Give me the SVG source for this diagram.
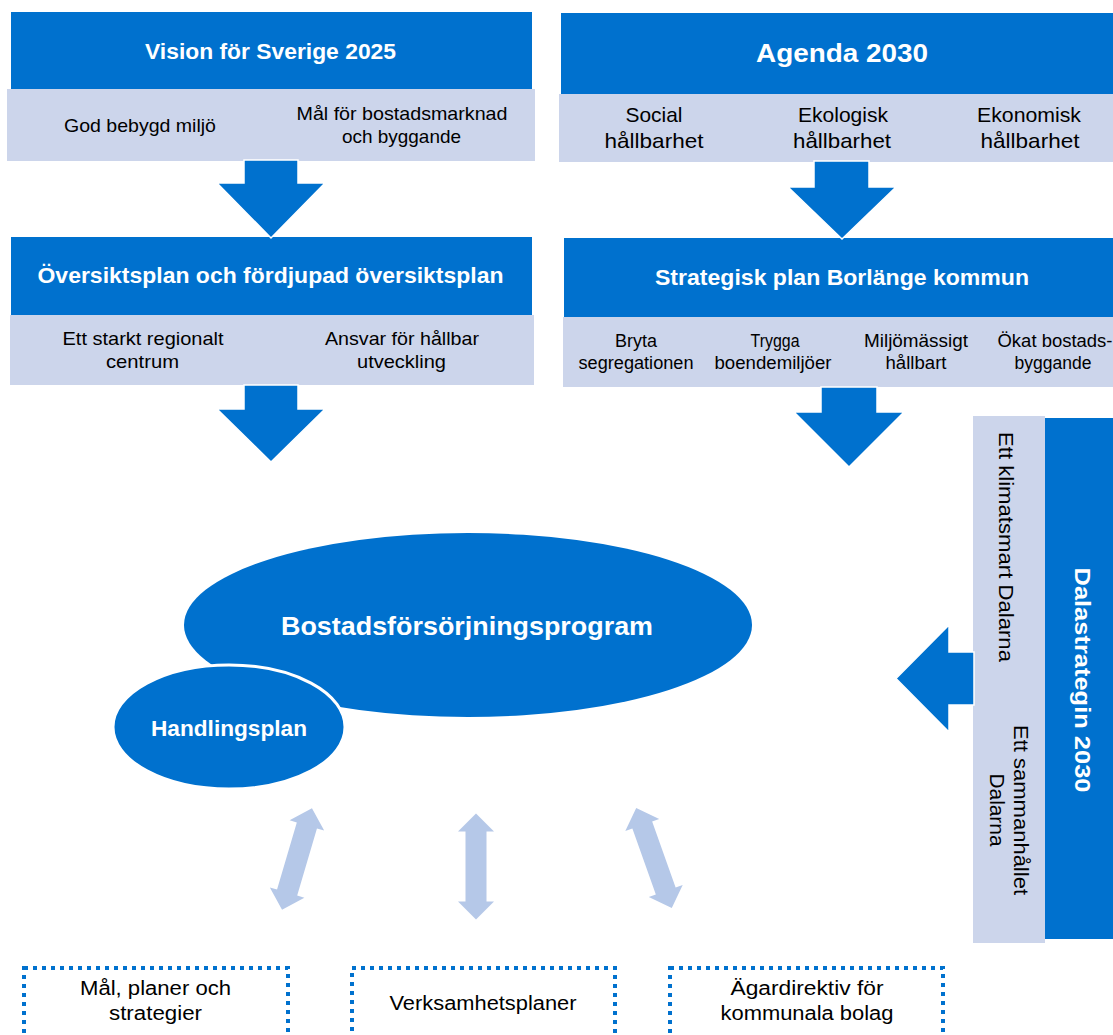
<svg xmlns="http://www.w3.org/2000/svg" width="1113" height="1035" viewBox="0 0 1113 1035">
<style>
.dk{fill:#0071CE}
.lt{fill:#CCD5EB}
.arr{fill:#0071CE;stroke:#fff;stroke-width:1.5}
.darr{fill:#B5C8E8}
.dash{fill:#fff;stroke:#0071CE;stroke-width:4;stroke-dasharray:4 5}
text{font-family:"Liberation Sans",Arial,sans-serif;text-anchor:middle}
.t{fill:#fff;font-weight:bold;font-size:22px}
.b{fill:#000;font-size:18.5px}
</style>
<rect width="1113" height="1035" fill="#fff"/>

<g id="vision">
<rect class="dk" x="11" y="12" width="521" height="78"/>
<rect class="lt" x="7" y="89" width="528" height="72"/>
<text class="t" x="270.5" y="59" textLength="251" lengthAdjust="spacingAndGlyphs">Vision för Sverige 2025</text>
<text class="b" x="140" y="132" textLength="152" lengthAdjust="spacingAndGlyphs">God bebygd miljö</text>
<text class="b" x="402" y="120" textLength="211" lengthAdjust="spacingAndGlyphs">Mål för bostadsmarknad</text>
<text class="b" x="401.5" y="143" textLength="119" lengthAdjust="spacingAndGlyphs">och byggande</text>
</g>

<g id="agenda">
<rect class="dk" x="561" y="13" width="552" height="81"/>
<rect class="lt" x="559" y="94" width="554" height="68"/>
<text class="t" x="842" y="62" style="font-size:26px" textLength="172" lengthAdjust="spacingAndGlyphs">Agenda 2030</text>
<g class="b" style="font-size:21px">
<text x="654" y="122" textLength="57" lengthAdjust="spacingAndGlyphs">Social</text>
<text x="654" y="148" textLength="99" lengthAdjust="spacingAndGlyphs">hållbarhet</text>
<text x="843" y="122" textLength="90" lengthAdjust="spacingAndGlyphs">Ekologisk</text>
<text x="842" y="148" textLength="98" lengthAdjust="spacingAndGlyphs">hållbarhet</text>
<text x="1029" y="122" textLength="104" lengthAdjust="spacingAndGlyphs">Ekonomisk</text>
<text x="1030" y="148" textLength="99" lengthAdjust="spacingAndGlyphs">hållbarhet</text>
</g>
</g>

<g id="oversiktsplan">
<rect class="dk" x="11" y="237" width="521" height="78"/>
<rect class="lt" x="10" y="315" width="524" height="70"/>
<text class="t" x="270.5" y="283" textLength="466" lengthAdjust="spacingAndGlyphs">Översiktsplan och fördjupad översiktsplan</text>
<text class="b" x="143" y="345" textLength="161" lengthAdjust="spacingAndGlyphs">Ett starkt regionalt</text>
<text class="b" x="142.5" y="368" textLength="73" lengthAdjust="spacingAndGlyphs">centrum</text>
<text class="b" x="402" y="345" textLength="154" lengthAdjust="spacingAndGlyphs">Ansvar för hållbar</text>
<text class="b" x="401.5" y="368" textLength="89" lengthAdjust="spacingAndGlyphs">utveckling</text>
</g>

<g id="strategisk-plan">
<rect class="dk" x="564" y="238" width="549" height="79"/>
<rect class="lt" x="563" y="317" width="550" height="70"/>
<text class="t" x="842" y="285" textLength="374" lengthAdjust="spacingAndGlyphs">Strategisk plan Borlänge kommun</text>
<g class="b" style="font-size:17.5px">
<text x="636" y="347" textLength="42" lengthAdjust="spacingAndGlyphs">Bryta</text>
<text x="636" y="369" textLength="115" lengthAdjust="spacingAndGlyphs">segregationen</text>
<text x="775" y="347" textLength="49" lengthAdjust="spacingAndGlyphs">Trygga</text>
<text x="773" y="369" textLength="117" lengthAdjust="spacingAndGlyphs">boendemiljöer</text>
<text x="916" y="347" textLength="104" lengthAdjust="spacingAndGlyphs">Miljömässigt</text>
<text x="916" y="369" textLength="61" lengthAdjust="spacingAndGlyphs">hållbart</text>
<text x="1055" y="347" textLength="115" lengthAdjust="spacingAndGlyphs">Ökat bostads-</text>
<text x="1053" y="369" textLength="77" lengthAdjust="spacingAndGlyphs">byggande</text>
</g>
</g>

<g id="dalastrategin">
<rect class="lt" x="973" y="416" width="72" height="527"/>
<rect class="dk" x="1045" y="418" width="68" height="521"/>
<text class="t" transform="translate(1075,680) rotate(90)" textLength="225" lengthAdjust="spacingAndGlyphs">Dalastrategin 2030</text>
<text class="b" style="font-size:20px" transform="translate(999,547) rotate(90)" textLength="230" lengthAdjust="spacingAndGlyphs">Ett klimatsmart Dalarna</text>
<text class="b" style="font-size:20px" transform="translate(1014,810) rotate(90)" textLength="170" lengthAdjust="spacingAndGlyphs">Ett sammanhållet</text>
<text class="b" style="font-size:20px" transform="translate(990,810) rotate(90)" textLength="73" lengthAdjust="spacingAndGlyphs">Dalarna</text>
</g>

<g id="bostadsforsorjningsprogram">
<ellipse class="dk" cx="468" cy="625" rx="284" ry="92"/>
<text class="t" x="467" y="635" style="font-size:26px" textLength="372" lengthAdjust="spacingAndGlyphs">Bostadsförsörjningsprogram</text>
</g>

<g id="handlingsplan">
<ellipse class="dk" cx="229" cy="727" rx="116" ry="62" stroke="#fff" stroke-width="3"/>
<text class="t" x="229" y="736" textLength="156" lengthAdjust="spacingAndGlyphs">Handlingsplan</text>
</g>

<g id="mal-planer">
<rect class="dash" x="24" y="968" width="264" height="70"/>
<text class="b" style="font-size:19.5px" x="155.5" y="995" textLength="151" lengthAdjust="spacingAndGlyphs">Mål, planer och</text>
<text class="b" style="font-size:19.5px" x="155.5" y="1020" textLength="93" lengthAdjust="spacingAndGlyphs">strategier</text>
</g>

<g id="verksamhetsplaner">
<rect class="dash" x="352" y="968" width="263" height="70"/>
<text class="b" style="font-size:19.5px" x="483" y="1010" textLength="187" lengthAdjust="spacingAndGlyphs">Verksamhetsplaner</text>
</g>

<g id="agardirektiv">
<rect class="dash" x="670" y="968" width="273" height="70"/>
<text class="b" style="font-size:19.5px" x="807" y="995" textLength="153" lengthAdjust="spacingAndGlyphs">Ägardirektiv för</text>
<text class="b" style="font-size:19.5px" x="807" y="1020" textLength="173" lengthAdjust="spacingAndGlyphs">kommunala bolag</text>
</g>

<g id="connectors">
<polygon class="arr" points="244,160 298,160 298,183 325,183 271,238 217,183 244,183"/>
<polygon class="arr" points="814,161 869,161 869,187 896,187 842,239 788,187 814,187"/>
<polygon class="arr" points="244,385 298,385 298,409 325,409 271,462 217,409 244,409"/>
<polygon class="arr" points="821,387 877,387 877,412 904,412 849,467 794,412 821,412"/>
<polygon class="arr" points="974,652 949,652 949,625 896,678.5 949,732 949,705 974,705"/>
<defs>
<polygon id="dbl" points="0,-53 18,-35 10.5,-35 10.5,35 18,35 0,53 -18,35 -10.5,35 -10.5,-35 -18,-35"/>
</defs>
<use href="#dbl" class="darr" transform="translate(297,859) rotate(16.4)"/>
<use href="#dbl" class="darr" transform="translate(476,866.5)"/>
<use href="#dbl" class="darr" transform="translate(654,858) rotate(-19.6)"/>
</g>
</svg>
